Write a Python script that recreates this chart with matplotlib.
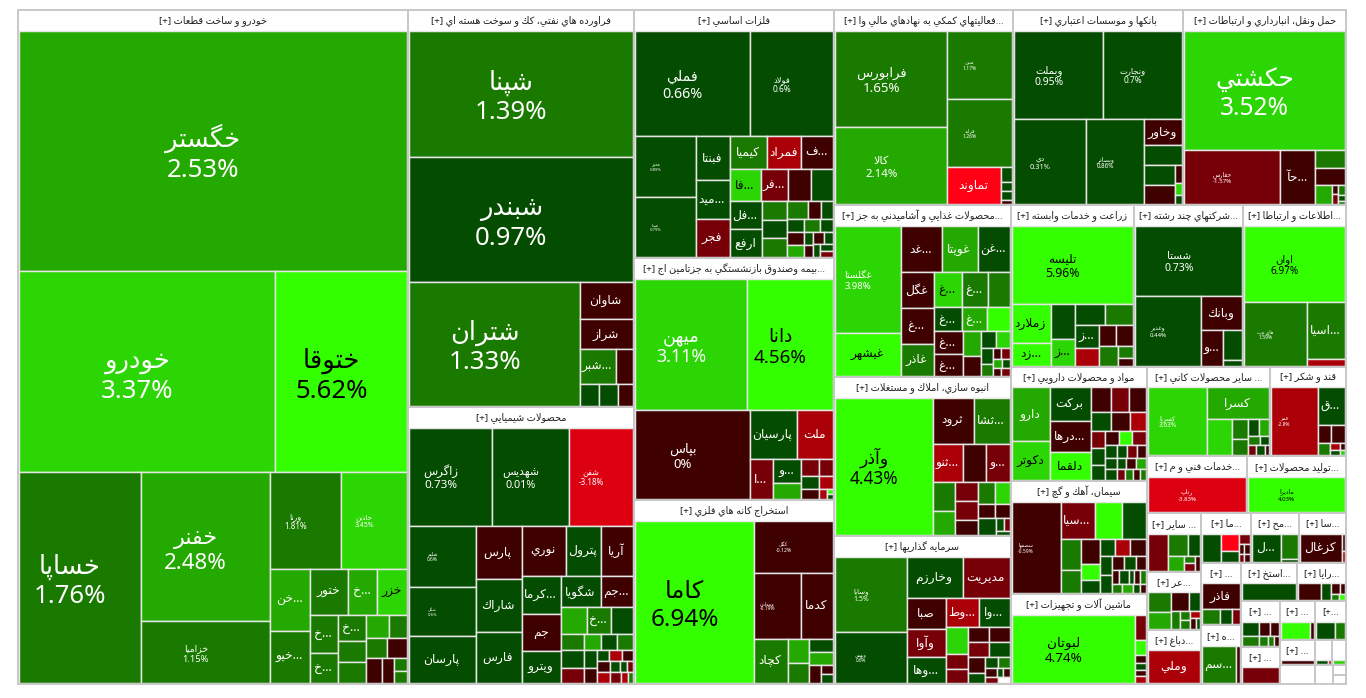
import matplotlib
matplotlib.use('Agg')
import matplotlib.pyplot as plt
from matplotlib.patches import Rectangle

# ---------- sector data ----------
sector_titles = ['خودرو و ساخت قطعات', 'فراورده هاي نفتي، كك و سوخت هسته اي', 'محصولات شيميايي', 'فلزات اساسي',
                 'بيمه وصندوق بازنشستگي به جزتامين اج...', 'استخراج كانه هاي فلزي',
                 'فعاليتهاي كمكي به نهادهاي مالي وا...', 'بانكها و موسسات اعتباري', 'حمل ونقل، انبارداري و ارتباطات',
                 'محصولات غذايي و آشاميدني به جز...', 'انبوه سازي، املاك و مستغلات', 'سرمايه گذاريها',
                 'زراعت و خدمات وابسته', 'شركتهاي چند رشته...', 'اطلاعات و ارتباطا...',
                 'مواد و محصولات دارويي', 'سيمان، آهك و گچ', 'ماشين آلات و تجهيزات',
                 'سایر محصولات كاني ...', 'قند و شكر', 'خدمات فني و م...', 'توليد محصولات...',
                 'سایر ...', 'عر...', 'دباغ...', 'ما...', 'مح...', 'سا...', '...', 'ه...', 'استخ...', 'رايا...',
                 '...', '...', '...', '[+...', '...', '', '', '', '', '', '']
sector_sizes = [262860, 89722, 62602, 49600, 48400, 36800, 34905, 33150, 31785, 30272, 27984, 26048,
                19964, 17549, 16583, 15640, 15368, 12240, 11036, 6764, 5757, 5643,
                3190, 3140, 2958, 2435, 2385, 2334, 2480, 2320, 2150, 1878, 1755, 1443, 1350, 1196,
                888, 432, 355, 675, 347, 132, 119]

auto_names = ['خگستر', 'خودرو', 'ختوقا', 'خساپا', 'خفنر', 'خزاميا', 'ورنا', 'خاذين', 'خن...', 'خيو...', 'ختور', 'خ...', 'خزر', 'خ...', 'خ...', 'خ...']
auto_changes = [2.53, 3.37, 5.62, 1.76, 2.48, 1.15, 1.81, 3.45, 2.4, 1.3, 1.2, 2.3, 3.3, 1.4, 1.6, 1.7, 1.1, 1.2, 2.2, 1.3, 1.4, -0.6, -0.7, -0.5, 1.5, 1.6]
auto_sizes = [92500, 51000, 26200, 25440, 19050, 7870, 6745, 6270, 2457, 2067, 1750, 1334, 1380, 1026, 810, 728, 588, 588, 506, 414, 420, 400, 390, 312, 169, 156]

fara_names = ['شپنا', 'شبندر', 'شتران', 'شاوان', 'شراز', 'شبر...']
fara_changes = [1.39, 0.97, 1.33, -0.6, -0.7, 1.3, -0.4, 0.5, 0.6, -0.4]
fara_sizes = [27875, 27650, 20956, 1980, 1595, 1258, 578, 418, 396, 336]

shimi_names = ['زاگرس', 'شهديس', 'شفن', 'شليم', 'شگل', 'پارسان', 'پارس', 'شاراك', 'فارس', 'نوري', 'پترول', 'آريا', 'كرما...', 'جم', 'ويترو', 'شگويا', 'جم...', '', 'خ...']
shimi_changes = [0.73, 0.01, -3.18, 0.6, 0.6, 0.5, -0.5, 0.6, 0.4, -0.3, 0.7, -0.4, 0.5, -0.6, 0.4, 0.6, -0.5, 2.4, 1.4, 0.5, 1.3, 2.5, 0.5, 1.4, 0.6, -1.4, 0.5, -0.4, 0.4, -2.5, -0.6, -0.7, 0.5, 0.4, -1.5, -2.6, -1.3, -2.4, 1.5]
shimi_sizes = [7872, 7296, 6144, 3900, 3185, 2990, 2340, 2385, 2250, 2112, 1728, 1536, 1443, 1443, 1209, 1200, 990, 650, 600, 575, 352, 272, 256, 256, 374, 330, 234, 195, 132, 132, 121, 143, 110, 77, 66, 130, 110, 80, 50]

felez_names = ['فملي', 'فولاد', 'فخوز', 'فپنتا', 'فبنتا', 'ميد...', 'فجر', 'كيميا', 'فمراد', 'ف...', 'فا...', 'فر...', '', '', 'فل...', 'ارفع']
felez_changes = [0.66, 0.6, 0.89, 0.79, 0.5, 0.4, -1.6, 1.3, -2.6, -0.4, 3.6, -1.4, -0.5, 0.6, 0.5, 0.4, 1.4, 0.5, 1.3, 1.5, -0.4, 0.6, 0.4, 1.3, 0.5, -0.6, 2.4, 0.5, -0.5, -0.4, 0.6, 0.5, 0.4, -1.5]
felez_sizes = [11639, 8549, 3538, 3480, 1452, 1287, 1254, 1184, 1088, 1024, 930, 837, 682, 682, 870, 840, 456, 456, 456, 378, 234, 216, 204, 192, 156, 221, 204, 117, 108, 130, 117, 84, 78, 78]

bime_names = ['ميهن', 'دانا', 'بپاس', 'پارسيان', 'ملت', 'ا...', 'و...']
bime_changes = [3.11, 4.56, 0.0, 0.5, -2.6, -1.4, 0.6, 2.4, -1.5, -1.6, 0.5, -2.5, -0.5, -2.4, 5.0, 0.5]
bime_sizes = [14319, 10965, 9856, 2208, 1728, 880, 648, 432, 288, 240, 216, 180, 180, 80, 35, 30]

estekh_names = ['كاما', 'كگل', 'ومعادن', 'كدما', 'كچاد']
estekh_changes = [6.94, -0.12, -0.19, -0.4, 1.4, 2.4, 1.3, 0.5, 2.5, -0.6, -0.5, 0.4]
estekh_sizes = [18515, 4000, 3008, 2048, 1452, 504, 420, 312, 312, 204, 96, 108]

faal_names = ['فرابورس', 'كالا', 'مبين', 'فرابد', 'تماوند']
faal_changes = [1.65, 2.14, 1.17, 1.26, -5.2, 0.5, 0.6, 0.4, -0.5]
faal_sizes = [10340, 8360, 4290, 4290, 1924, 156, 96, 96, 48]

bank_names = ['وبملت', 'ونجارت', 'دي', 'وبصادر', 'وخاور']
bank_changes = [0.95, 0.7, 0.31, 0.86, -0.5, 0.6, 0.4, -0.6, -0.4, 3.3, 0.5]
bank_sizes = [7569, 6699, 5880, 4704, 950, 722, 589, 558, 119, 84, 63]

haml_names = ['حكشتي', 'حفارس', 'حآ...']
haml_changes = [3.52, -1.57, -0.4, 1.3, -0.5, 2.4, -0.6, -1.5, 1.4, 0.5, 1.6]
haml_sizes = [18792, 5130, 1836, 527, 496, 320, 63, 63, 70, 42, 21]

ghaza_names = ['غگلستا', 'غيشهر', 'غد...', 'غويتا', 'غن...', 'غگل', 'غ...', 'غاذر', 'غ...', 'غ...', '', 'غ...', 'غ...', '', 'غ...', 'غ...']
ghaza_changes = [3.98, 5.1, -0.6, 2.4, 0.5, -0.5, -0.4, 1.3, 3.4, 1.4, 1.3, 0.5, 2.5, 4.8, -0.6, -0.5, 2.4, -0.4, 0.5, 3.2, 0.6, 1.4, -0.6, -1.4, 2.6, 0.5, -0.5, -1.5]
ghaza_sizes = [6741, 2709, 1840, 1610, 1426, 1120, 1120, 1024, 952, 850, 714, 672, 576, 528, 644, 616, 425, 340, 240, 224, 192, 144, 88, 88, 72, 64, 64, 64]

anbuh_names = ['وآذر', 'ثرود', 'ثشا...', 'ثنو...', '', 'و...']
anbuh_changes = [4.43, -0.5, 1.3, -2.5, -0.6, -1.5, 1.4, 2.3, -1.5, -1.6, -0.4, 1.5, 3.2, -0.5, -0.6, 0.5, 0.6, -1.4, 0.4]
anbuh_sizes = [12462, 1804, 1540, 1080, 828, 828, 588, 504, 414, 414, 345, 320, 300, 224, 210, 272, 88, 66, 56]

sarm_names = ['وسايا', 'وبهمن', 'وخارزم', 'مديريت', 'صبا', 'وآوا', 'وها...', 'وط...', 'وا...']
sarm_changes = [1.5, 0.6, 0.5, -1.5, -0.5, -1.4, 0.4, -2.5, 0.6, 3.3, -1.4, -1.6, -0.5, -0.4, -1.5, 0.5, -0.6, 0.4, 0.5, 1.3, -0.5, 0.6, -0.4, -1.6, None]
sarm_sizes = [5106, 3450, 2200, 1840, 1170, 1092, 975, 899, 870, 546, 294, 294, 300, 300, 280, 280, 272, 170, 132, 121, 100, 54, 54, 77, 70]

zeraat_names = ['تليسه', 'زملارد', 'زد...', '', 'ز...', '', '', 'ز...']
zeraat_changes = [5.96, 5.2, 4.6, 0.5, 3.3, 0.6, 1.3, 0.5, -2.5, -0.5, -0.6, 1.4, 1.6, -0.5]
zeraat_sizes = [9075, 1482, 836, 805, 598, 600, 560, 528, 408, 340, 340, 342, 176, 112]

sherkat_names = ['شستا', 'وغدير', 'وبانك', 'و...']
sherkat_changes = [0.73, 0.44, -0.5, -0.6, 0.5, 0.4]
sherkat_sizes = [7276, 4416, 1386, 770, 551, 95]

ettela_names = ['اوان', 'هاي وب', 'اسيا...']
ettela_changes = [6.97, 1.59, 1.3, -2.6]
ettela_sizes = [7474, 3906, 2128, 228]

mavad_names = ['دارو', 'دكوتر', 'بركت', 'درها...', 'دلقما']
mavad_changes = [2.4, 3.4, 0.5, -0.5, 4.7, -0.5, -1.5, -0.6, 0.5, -0.4, -2.4, -1.4, 0.6, 0.4, -0.5, 4.5, -1.6, 0.5, 0.6, 0.4, 0.5, -1.4, -0.6, 0.4, -0.5, 2.8, -1.5, 1.3, -0.4, 1.4]
mavad_sizes = [1924, 1406, 1248, 1170, 1053, 460, 414, 391, 360, 324, 288, 208, 208, 195, 182, 169, 169, 144, 132, 132, 120, 108, 108, 88, 100, 100, 88, 77, 77, 66]

siman_names = ['سصفها', 'سيا...']
siman_changes = [-0.59, -1.5, 5.0, 0.5, 1.4, 1.3, -0.5, 4.6, 0.6, 0.5, -2.6, -0.6, 0.5, 0.4, -0.5, 0.6, -0.4, -0.5, 0.5, 0.6, -0.4, 1.4, 1.5, 2.5, 0.5, -0.6]
siman_sizes = [4183, 1190, 910, 840, 580, 440, 437, 285, 228, 240, 240, 256, 216, 204, 168, 154, 140, 96, 120, 72, 72, 72, 90, 100, 60, 50]

mashin_names = ['لبوتان']
mashin_changes = [4.74, -1.5, 4.6, -0.5, 0.6, -0.4, -2.5]
mashin_sizes = [8487, 286, 165, 88, 77, 66, 77]

kani_names = ['كسريا', 'كسرا']
kani_changes = [3.63, 2.4, 3.2, 1.3, 1.4, 0.5, 2.2, 1.5, 0.6, -1.5, 0.5, -0.5]
kani_sizes = [3819, 1922, 840, 304, 256, 180, 162, 99, 72, 77, 88, 44]

ghand_names = ['قمر', 'ق...']
ghand_changes = [-2.8, 0.5, -0.5, -0.6, 1.4, -2.5, 0.6, -0.4, 3.4]
ghand_sizes = [3015, 1008, 238, 238, 144, 63, 45, 35, 25]

khad_names = ['رتاپ']
khad_changes = [-3.83]
khad_sizes = [3528]

tolid_names = ['ماديرا']
tolid_changes = [4.03]
tolid_sizes = [3492]

sayer_names = []
sayer_changes = [-1.6, 1.4, 0.5, 2.5, 1.3, -1.5, -0.6]
sayer_sizes = [684, 399, 252, 210, 77, 77, 75]

ar_names = []
ar_changes = [1.4, 2.6, -0.5, 0.5, 1.3, 1.5, 1.4, -2.5, -0.6, 0.4]
ar_sizes = [374, 308, 270, 180, 128, 72, 72, 65, 50, 40]

dab_names = ['وملي']
dab_changes = [-2.7]
dab_sizes = [1612]

ma_names = []
ma_changes = [0.5, -4.8, 0.6, -1.3, -0.5, -0.6, -1.4, -0.5]
ma_sizes = [459, 289, 170, 99, 45, 54, 35, 42]

mih_names = ['ل...']
mih_changes = [0.5, 1.4, 0.6]
mih_sizes = [756, 384, 48]

kaz_names = ['كزغال']
kaz_changes = [-0.5, -0.6, -2.5]
kaz_sizes = [1134, 51, 30]

fazer_names = ['فاذر']
fazer_changes = [-0.5, 1.4, 0.5, -1.4]
fazer_sizes = [851, 238, 154, 112]

h5_names = ['سم...']
h5_changes = [1.4, -0.5]
h5_sizes = [1152, 144]

istekh_names = []
istekh_changes = [0.5]
istekh_sizes = [756]

raya_names = []
raya_changes = [-0.5, 0.6, -0.4, -0.6, 1.3, 5.0]
raya_sizes = [322, 140, 72, 45, 45, 30]

s4a_names = []
s4a_changes = [0.5, -0.5, -0.6, 1.4, 1.5, 1.3, -0.4]
s4a_sizes = [192, 120, 96, 128, 72, 48, 32]

s4b_names = []
s4b_changes = [-1.4]
s4b_sizes = [504]

s5a_names = []
s5a_changes = [5.0, -0.5]
s5a_sizes = [420, 56]

s5b_names = []
s5b_changes = [0.5, 1.4]
s5b_sizes = [252, 126]

s6a_names = []
s6a_changes = [-0.5]
s6a_sizes = [100]

s6b_names = []
s6b_changes = [0.5, -2.0]
s6b_sizes = [30, 6]

s6c_names = []
s6c_changes = [3.4]
s6c_sizes = [28]

# font sizes (pt) of the tiles that carry a name and a percentage
auto_fonts = [18.5, 18.5, 18.5, 18.5, 16, 6.7, 5.8, 5]
fara_fonts = [18.5, 18.5, 18.5]
shimi_fonts = [8.4, 7.8, 5.8, 3.5, 3]
felez_fonts = [10.3, 6, 3, 3]
bime_fonts = [12.8, 13.5, 9.4]
estekh_fonts = [17.5, 3.7, 3.5]
faal_fonts = [9.5, 8.2, 3.6, 3.6]
bank_fonts = [7.5, 6, 5.3, 4.5]
haml_fonts = [17.7, 4.4]
ghaza_fonts = [6.8]
anbuh_fonts = [12.4]
sarm_fonts = [5, 3.3]
zeraat_fonts = [8.8]
sherkat_fonts = [7.5, 4.4]
ettela_fonts = [7.2, 3.6]
siman_fonts = [3.6]
mashin_fonts = [9.7]
kani_fonts = [4.6]
ghand_fonts = [3.5]
khad_fonts = [4.4]
tolid_fonts = [4.4]


# ---------- split structure ----------
def R(*kids):
    return ('row', kids)


def C(*kids):
    return ('col', kids)


top_tree = R(1, C(2), C(3),
             C(R(3),
               R(C(3),
                 C(R(3),
                   R(C(3),
                     C(R(2), R(2),
                       R(C(3),
                         C(R(3),
                           R(C(2),
                             C(R(2),
                               R(C(2),
                                 C(R(2), R(3), R(2, C(2))))))))))))))

trees = [
    C(1, R(2), R(1, C(2), C(R(2), R(C(2), C(R(3), R(C(2), C(3), C(R(2), R(2), R(2, C(2))))))))),
    C(2, R(1, C(2, R(2), R(3)))),
    C(R(3), R(C(3), C(3), C(R(3), R(C(3), C(R(2), R(3), R(4), R(C(2), C(2), C(R(3), R(4), R(4)))))))),
    C(R(2), R(C(2), C(3), C(R(3), R(4), R(C(2), C(3), C(R(3), R(3), R(C(2), C(2), C(R(2), R(1, C(2))))))))),
    C(R(2), R(1, C(R(2), R(1, C(2), C(R(2), R(2), R(2, C(2))))))),
    R(1, C(1, R(2), R(1, C(2), C(2, R(1, C(2)))))),
    R(C(2), C(2, R(1, C(4)))),
    C(R(2), R(2, C(2, R(C(2), C(3))))),
    C(1, R(2, C(2, R(1, C(2), C(3))))),
    R(C(2), C(R(3), R(C(3), C(R(3), R(3), R(C(2), C(2), C(R(2), R(C(2), C(R(2), R(2), R(2))))))))),
    R(1, C(R(2), R(3), R(C(2), C(3), C(R(2), R(2), R(1, C(R(2), 1)))))),
    R(C(2), C(R(2), R(C(3), C(R(2), R(C(3), C(R(2), R(2), R(C(2), C(R(2), R(3), R(2))))))))),
    C(1, R(C(2), C(2), C(R(2), R(C(2), C(R(2), R(1, C(2))))))),
    C(1, R(1, C(1, R(1, C(2))))),
    C(1, R(1, C(2))),
    R(C(2), C(3), C(R(3), R(3), R(C(3), C(R(3), R(C(3), C(R(3), R(3), R(4))))))),
    R(1, C(R(3), R(C(2), C(3), C(R(3), R(C(2), C(R(3), R(5), R(4))))))),
    R(1, C(6)),
    R(1, C(1, R(1, C(2), C(R(2), R(2), R(3))))),
    R(1, C(1, R(2), R(1, C(2), C(2)))),
    C(1), C(1),
    R(1, C(R(2), R(1, C(2), 1))),
    R(C(2), C(R(2), R(1, C(2), C(1, R(2))))),
    C(1),
    R(1, C(2), C(1, R(2), R(2))),
    R(1, C(2)),
    R(1, C(2)),
    C(1, R(3)),
    R(2),
    C(1),
    R(2, C(R(2), R(2))),
    C(R(3), R(4)),
    C(1),
    R(2),
    R(2),
    C(1),
    R(2),
    C(1),
]

sector_data = [
    (auto_names, auto_changes, auto_sizes, auto_fonts),
    (fara_names, fara_changes, fara_sizes, fara_fonts),
    (shimi_names, shimi_changes, shimi_sizes, shimi_fonts),
    (felez_names, felez_changes, felez_sizes, felez_fonts),
    (bime_names, bime_changes, bime_sizes, bime_fonts),
    (estekh_names, estekh_changes, estekh_sizes, estekh_fonts),
    (faal_names, faal_changes, faal_sizes, faal_fonts),
    (bank_names, bank_changes, bank_sizes, bank_fonts),
    (haml_names, haml_changes, haml_sizes, haml_fonts),
    (ghaza_names, ghaza_changes, ghaza_sizes, ghaza_fonts),
    (anbuh_names, anbuh_changes, anbuh_sizes, anbuh_fonts),
    (sarm_names, sarm_changes, sarm_sizes, sarm_fonts),
    (zeraat_names, zeraat_changes, zeraat_sizes, zeraat_fonts),
    (sherkat_names, sherkat_changes, sherkat_sizes, sherkat_fonts),
    (ettela_names, ettela_changes, ettela_sizes, ettela_fonts),
    (mavad_names, mavad_changes, mavad_sizes, []),
    (siman_names, siman_changes, siman_sizes, siman_fonts),
    (mashin_names, mashin_changes, mashin_sizes, mashin_fonts),
    (kani_names, kani_changes, kani_sizes, kani_fonts),
    (ghand_names, ghand_changes, ghand_sizes, ghand_fonts),
    (khad_names, khad_changes, khad_sizes, khad_fonts),
    (tolid_names, tolid_changes, tolid_sizes, tolid_fonts),
    (sayer_names, sayer_changes, sayer_sizes, []),
    (ar_names, ar_changes, ar_sizes, []),
    (dab_names, dab_changes, dab_sizes, []),
    (ma_names, ma_changes, ma_sizes, []),
    (mih_names, mih_changes, mih_sizes, []),
    (kaz_names, kaz_changes, kaz_sizes, []),
    (fazer_names, fazer_changes, fazer_sizes, []),
    (h5_names, h5_changes, h5_sizes, []),
    (istekh_names, istekh_changes, istekh_sizes, []),
    (raya_names, raya_changes, raya_sizes, []),
    (s4a_names, s4a_changes, s4a_sizes, []),
    (s4b_names, s4b_changes, s4b_sizes, []),
    (s5a_names, s5a_changes, s5a_sizes, []),
    (s5b_names, s5b_changes, s5b_sizes, []),
    (s6a_names, s6a_changes, s6a_sizes, []),
    (s6b_names, s6b_changes, s6b_sizes, []),
    (s6c_names, s6c_changes, s6c_sizes, []),
]

# ---------- Arabic shaping (matplotlib has no text shaping) ----------
FORMS = {
    'ا': (0xFE8D, 0xFE8E), 'آ': (0xFE81, 0xFE82), 'أ': (0xFE83, 0xFE84), 'د': (0xFEA9, 0xFEAA), 'ذ': (0xFEAB, 0xFEAC),
    'ر': (0xFEAD, 0xFEAE), 'ز': (0xFEAF, 0xFEB0), 'ژ': (0xFB8A, 0xFB8B), 'و': (0xFEED, 0xFEEE),
    'ب': 0xFE8F, 'پ': 0xFB56, 'ت': 0xFE95, 'ث': 0xFE99, 'ج': 0xFE9D, 'چ': 0xFB7A, 'ح': 0xFEA1, 'خ': 0xFEA5,
    'س': 0xFEB1, 'ش': 0xFEB5, 'ص': 0xFEB9, 'ض': 0xFEBD, 'ط': 0xFEC1, 'ظ': 0xFEC5, 'ع': 0xFEC9, 'غ': 0xFECD,
    'ف': 0xFED1, 'ق': 0xFED5, 'ك': 0xFED9, 'ک': 0xFB8E, 'گ': 0xFB92, 'ل': 0xFEDD, 'م': 0xFEE1, 'ن': 0xFEE5,
    'ه': 0xFEE9, 'ي': 0xFEF1, 'ی': 0xFBFC,
}


def shape(word):
    out = []
    prev_joins = False
    i = 0
    while i < len(word):
        ch = word[i]
        if ch == 'ل' and i + 1 < len(word) and word[i + 1] in 'اآ':
            base = 0xFEFB if word[i + 1] == 'ا' else 0xFEF5
            out.append(chr(base + (1 if prev_joins else 0)))
            prev_joins = False
            i += 2
            continue
        f = FORMS.get(ch)
        if f is None:
            out.append(ch)
            prev_joins = False
        elif isinstance(f, tuple):
            out.append(chr(f[1] if prev_joins else f[0]))
            prev_joins = False
        else:
            next_letter = i + 1 < len(word) and word[i + 1] in FORMS
            if prev_joins:
                out.append(chr(f + 3 if next_letter else f + 1))
            else:
                out.append(chr(f + 2 if next_letter else f))
            prev_joins = next_letter
        i += 1
    return ''.join(reversed(out))


def visual(text):
    if text.endswith('...'):
        core = text[:-3]
        sep = ' ' if core.endswith(' ') else ''
        return shape(core.rstrip()) + sep + '...'
    return shape(text)


# ---------- layout ----------
def leaves(node, sizes_iter):
    """Resolve a node into a tree with total sizes, taking sizes in order."""
    if isinstance(node, int):
        return [(next(sizes_iter),) for _ in range(node)]
    kind, kids = node
    children = []
    for k in kids:
        children.extend(leaves(k, sizes_iter))
    total = sum(c[0] for c in children)
    return [(total, kind, children)]


def place(node, x, y, w, h, out):
    if len(node) == 1:
        out.append((x, y, w, h))
        return
    total, kind, children = node
    pos = 0.0
    for c in children:
        share = c[0] / total
        if kind == 'row':
            place(c, x + pos * w, y, share * w, h, out)
        else:
            place(c, x, y + pos * h, w, share * h, out)
        pos += share


def layout(tree, sizes, x, y, w, h):
    it = iter(sizes)
    root = leaves(tree, it)[0]
    assert next(it, None) is None, 'unused sizes'
    out = []
    place(root, x, y, w, h, out)
    return out


PALETTE_POS = ['#044d00', '#1a7a00', '#23a900', '#2cd604', '#33ff00']
PALETTE_NEG = ['#3f0000', '#770008', '#ac0009', '#dd0011', '#ff0015']


def colour(v):
    if v is None:
        return 'white'
    if v > 0:
        return PALETTE_POS[min(int(v), 4)]
    return PALETTE_NEG[min(int(-v), 4)]


plt.rcParams['font.family'] = ['Noto Sans', 'DejaVu Sans']
fig = plt.figure(figsize=(13.66, 6.98), dpi=100, facecolor='white')
ax = fig.add_axes([0, 0, 1, 1])
ax.set_xlim(0, 1366)
ax.set_ylim(698, 0)
ax.axis('off')

X0, Y0, X1, Y1 = 18, 10, 1346, 684
HEADER = 20.5
PX = 72 / 100

boxes = layout(top_tree, sector_sizes, X0, Y0, X1 - X0, Y1 - Y0)

for i, (bx, by, bw, bh) in enumerate(boxes):
    ax.add_patch(Rectangle((bx, by), bw, bh, fc='white', ec='none', zorder=1))
    title = sector_titles[i]
    if title.startswith('['):
        ax.text(bx + bw / 2, by + HEADER / 2 + 0.5, title, ha='center', va='center', fontsize=7, color='#222222', zorder=5)
    elif title:
        ax.text(bx + bw / 2, by + HEADER / 2 + 0.5, '[+] ' + visual(title), ha='center', va='center', fontsize=7, color='#222222', zorder=5)
    if i < len(trees):
        names, changes, sizes, fonts = sector_data[i]
        assert len(names) <= len(sizes) and len(changes) == len(sizes), i
        tiles = layout(trees[i], sizes, bx + 1, by + HEADER, bw - 2, bh - HEADER - 1)
        for j, (x, y, w, h) in enumerate(tiles):
            v = changes[j]
            ax.add_patch(Rectangle((x, y), w, h, fc=colour(v), ec='#e6e6e6', lw=1.05, zorder=2))
            name = names[j] if j < len(names) else ''
            if not name:
                continue
            labelled = j < len(fonts)
            dark = v >= 4 or (not labelled and v >= 3)
            tc = 'black' if dark else 'white'
            cx, cy = x + w / 2, y + h / 2
            if labelled:
                fs = fonts[j]
                lh = fs / PX
                ax.text(cx - 10, cy - 0.15 * lh, visual(name), ha='center', va='baseline', fontsize=fs, color=tc, zorder=4)
                ax.text(cx - 10, cy + 1.0 * lh, f'{v:g}%', ha='center', va='baseline', fontsize=fs, color=tc, zorder=4)
            else:
                ax.text(cx - 1, cy, visual(name), ha='center', va='center', fontsize=8.8, color=tc, zorder=4)
    ax.add_patch(Rectangle((bx, by), bw, bh, fc='none', ec='#c8c8c8', lw=1.4, zorder=3))

fig.savefig('out.png', dpi=100, facecolor='white')
